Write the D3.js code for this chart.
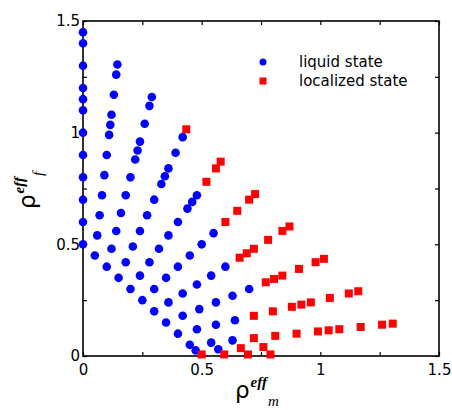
<!DOCTYPE html>
<html>
<head>
<meta charset="utf-8">
<script src="https://cdn.jsdelivr.net/npm/d3@7"></script>
<style>
  body { margin: 0; background: #fff; }
  svg { display: block; }
</style>
</head>
<body>
<div id="chart"></div>
<script>
// values: [rho_m_eff, rho_f_eff]
let liquidState = [
  [0, 0.5], [0, 0.6], [0, 0.7], [0, 0.8], [0, 0.9], [0, 1.0], [0, 1.1], [0, 1.15], [0, 1.2], [0, 1.3], [0, 1.4], [0, 1.45],
  [0.05, 0.45], [0.06, 0.54], [0.07, 0.63], [0.08, 0.72], [0.09, 0.81], [0.10, 0.90], [0.11, 0.99], [0.115, 1.035], [0.12, 1.08], [0.13, 1.17], [0.14, 1.26], [0.145, 1.305],
  [0.10, 0.40], [0.12, 0.48], [0.14, 0.56], [0.16, 0.64], [0.18, 0.72], [0.20, 0.80], [0.22, 0.88], [0.23, 0.92], [0.24, 0.96], [0.26, 1.04], [0.28, 1.12], [0.29, 1.16],
  [0.15, 0.35], [0.18, 0.42], [0.21, 0.49], [0.24, 0.56], [0.27, 0.63], [0.30, 0.70], [0.33, 0.77], [0.345, 0.805], [0.36, 0.84], [0.39, 0.91], [0.42, 0.98],
  [0.20, 0.30], [0.24, 0.36], [0.28, 0.42], [0.32, 0.48], [0.36, 0.54], [0.40, 0.60], [0.44, 0.66], [0.46, 0.69], [0.48, 0.72],
  [0.25, 0.25], [0.30, 0.30], [0.35, 0.35], [0.40, 0.40], [0.45, 0.45], [0.50, 0.50], [0.55, 0.55],
  [0.30, 0.20], [0.36, 0.24], [0.42, 0.28], [0.48, 0.32], [0.54, 0.36], [0.60, 0.40],
  [0.35, 0.15], [0.42, 0.18], [0.49, 0.21], [0.56, 0.24], [0.63, 0.27], [0.70, 0.30],
  [0.40, 0.10], [0.48, 0.12], [0.56, 0.14], [0.64, 0.16],
  [0.45, 0.05], [0.54, 0.06], [0.63, 0.07],
  [0.475, 0.025], [0.57, 0.03]
];

let localizedState = [
  [0.435, 1.015],
  [0.52, 0.78], [0.56, 0.84], [0.58, 0.87],
  [0.60, 0.60], [0.65, 0.65], [0.70, 0.70], [0.725, 0.725],
  [0.66, 0.44], [0.69, 0.46], [0.72, 0.48], [0.78, 0.52], [0.84, 0.56], [0.87, 0.58],
  [0.77, 0.33], [0.805, 0.345], [0.84, 0.36], [0.91, 0.39], [0.98, 0.42], [1.015, 0.435],
  [0.72, 0.18], [0.80, 0.20], [0.88, 0.22], [0.92, 0.23], [0.96, 0.24], [1.04, 0.26], [1.12, 0.28], [1.16, 0.29],
  [0.72, 0.08], [0.81, 0.09], [0.90, 0.10], [0.99, 0.11], [1.035, 0.115], [1.08, 0.12], [1.17, 0.13], [1.26, 0.14], [1.305, 0.145],
  [0.665, 0.035], [0.76, 0.04],
  [0.50, 0.007], [0.595, 0.007], [0.695, 0.007], [0.79, 0.007]
];

let tickValues = [0, 0.25, 0.5, 0.75, 1, 1.25, 1.5];
let labelledTicks = [0, 0.5, 1, 1.5];
let legendLabels = ["liquid state", "localized state"];

let margin = { top: 21, left: 83, right: 13, bottom: 54 },
    totalW = 452, totalH = 410,
    width = totalW - margin.left - margin.right,
    height = totalH - margin.top - margin.bottom;

let fontFam = "DejaVu Sans, sans-serif";

let svg = d3.select("#chart").append("svg")
    .attr("width", totalW)
    .attr("height", totalH);

let g = svg.append("g")
    .attr("transform", "translate(" + margin.left + "," + margin.top + ")");

let x = d3.scaleLinear().domain([0, 1.5]).range([0, width]);
let y = d3.scaleLinear().domain([0, 1.5]).range([height, 0]);

let fmt = d => labelledTicks.includes(d) ? d3.format("")(d) : "";

function styleAxis(sel) {
  sel.select(".domain").remove();
  sel.selectAll("line").attr("stroke", "#000").attr("stroke-width", 1.2);
  sel.selectAll("text")
    .attr("font-family", fontFam)
    .attr("font-size", 15)
    .attr("fill", "#000");
}

// bottom / left axes with inward ticks
g.append("g")
  .attr("transform", "translate(0," + height + ")")
  .call(d3.axisBottom(x).tickValues(tickValues).tickFormat(fmt).tickSizeInner(-4).tickSizeOuter(0).tickPadding(8))
  .call(styleAxis);

g.append("g")
  .call(d3.axisLeft(y).tickValues(tickValues).tickFormat(fmt).tickSizeInner(-4).tickSizeOuter(0).tickPadding(3))
  .call(styleAxis);

g.append("g")
  .call(d3.axisTop(x).tickValues(tickValues).tickFormat("").tickSizeInner(-4).tickSizeOuter(0))
  .call(styleAxis);

g.append("g")
  .attr("transform", "translate(" + width + ",0)")
  .call(d3.axisRight(y).tickValues(tickValues).tickFormat("").tickSizeInner(-4).tickSizeOuter(0))
  .call(styleAxis);

// frame
g.append("rect")
  .attr("width", width)
  .attr("height", height)
  .attr("fill", "none")
  .attr("stroke", "#000")
  .attr("stroke-width", 1.6);

// points
g.selectAll(".liquid")
  .data(liquidState)
  .enter()
  .append("circle")
  .attr("class", "liquid")
  .attr("cx", d => x(d[0]))
  .attr("cy", d => y(d[1]))
  .attr("r", 4.3)
  .attr("fill", "#0000ff");

let sq = 8;
g.selectAll(".localized")
  .data(localizedState)
  .enter()
  .append("rect")
  .attr("class", "localized")
  .attr("x", d => x(d[0]) - sq / 2)
  .attr("y", d => y(d[1]) - sq / 2)
  .attr("width", sq)
  .attr("height", sq)
  .attr("fill", "#ff0000");

// legend
let legend = g.append("g").attr("transform", "translate(180,41)");
legend.append("circle").attr("cx", 0).attr("cy", 0).attr("r", 3.5).attr("fill", "#0000ff");
legend.append("rect").attr("x", -3.5).attr("y", 15.5).attr("width", 7).attr("height", 7).attr("fill", "#ff0000");
legend.selectAll("text")
  .data(legendLabels)
  .enter()
  .append("text")
  .attr("x", 36)
  .attr("y", (d, i) => 5 + i * 19)
  .attr("font-family", fontFam)
  .attr("font-size", 15)
  .attr("fill", "#000")
  .text(d => d);

// axis titles
function axisTitle(sel, sub) {
  sel.attr("fill", "#000");
  sel.append("tspan")
    .attr("font-family", fontFam)
    .attr("font-size", 23)
    .text("\u03C1");
  sel.append("tspan")
    .attr("font-family", "Liberation Serif, serif")
    .attr("font-style", "italic")
    .attr("font-weight", "bold")
    .attr("font-size", 15)
    .attr("dy", -11)
    .attr("dx", 1)
    .text("eff");
  sel.append("tspan")
    .attr("font-family", "Liberation Serif, serif")
    .attr("font-style", "italic")
    .attr("font-size", 15)
    .attr("dy", 19)
    .attr("dx", 1)
    .text(sub);
}

svg.append("text")
  .attr("x", 235)
  .attr("y", 398)
  .call(axisTitle, "m");

svg.append("text")
  .attr("transform", "translate(35,209) rotate(-90)")
  .call(axisTitle, "f");
</script>
</body>
</html>
